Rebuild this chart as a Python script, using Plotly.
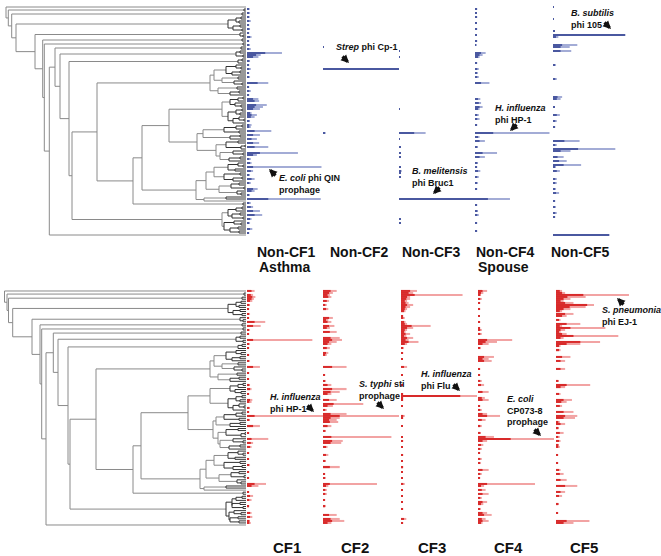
import plotly.graph_objects as go

W, H = 661, 556
FONT = "Liberation Sans, Arial, sans-serif"

# ---------------- dendrogram (same topology for both panels) ----------------
C1 = "(c1 (236 (241 . .) (239 . .)) (233 (240 . .) (242 . .)))"
C2 = "(240 . (243 . .))"
C8 = "(c8 (214 (226 (236 . (241 . .)) (232 (240 . .) .)) (222 (238 . .) (234 . (242 . .)))) (218 (237 . .) (230 (239 . .) .)))"
C9 = "(c9 (230 (238 (243 . .) .) (235 . (241 . .))) (228 (236 (242 . .) (240 . .)) (233 (239 . (244 . .)) .)))"
C10 = "(c10 (c10a (224 (236 (242 . .) .) (239 . .)) (230 (240 . .) .)) (c10b (226 (238 . .) (241 (245 . .) .)) (220 (233 . (243 . .)) (229 (240 . .) .))))"
C11 = "(c11 (206 (214 (228 (238 . (243 . .)) (235 . .)) (224 (240 . .) (233 (242 . .) .))) (219 (231 (239 . .) (244 . .)) (237 . (241 . .)))) (204 (226 . .) .))"
C13 = "(c13 (c13a (236 (242 . .) .) (232 (240 . .) (243 . .))) (c13b (234 . (241 . .)) (230 (238 . .) (239 . .))))"

TREE = f"""
(r0 .
  (r1 (244 . .)
    (r2 (242 . .)
      (r3 {C1}
        (r4 {C2}
          (r5 (242 . .)
            (r6 (243 . .)
              (r7
                (r8 (241 . .)
                  (r9 (236 (240 . .) (243 . .))
                    (r10 (238 (242 . .) .)
                      (r11
                        (r12 {C8} (r13 (r14 (r15 {C9} {C10}) {C11}) (243 . .)))
                        {C13}))))
                . ))))))))
"""

TOP_HEIGHTS = {"r0": 6, "r1": 8.3, "r2": 11.7, "r3": 16, "r4": 35, "r5": 42.7, "r6": 44.3,
               "r7": 49.3, "r8": 55, "r9": 60, "r10": 69, "r11": 72, "r12": 97, "r13": 133,
               "r14": 142, "r15": 169, "c1": 228, "c8": 210, "c9": 222, "c10": 197,
               "c10a": 203, "c10b": 216, "c11": 196, "c13": 222, "c13a": 228, "c13b": 224}
BOT_HEIGHTS = {"r0": 4.5, "r1": 7, "r2": 8.5, "r3": 12.7, "r4": 32, "r5": 40, "r6": 41.7,
               "r7": 46, "r8": 53.3, "r9": 58, "r10": 68, "r11": 70, "r12": 96, "r13": 133,
               "r14": 141, "r15": 188, "c1": 228, "c8": 210, "c9": 210, "c10": 213,
               "c10a": 216, "c10b": 218, "c11": 200, "c13": 226, "c13a": 232, "c13b": 229}
LEAF_X = 246

# ---------------- bars: (leaf row, total length, dark core length), % of column ----------------
NONCF1 = [(1,3,3),(3,4,2),(5,3,3),(7,5,3),(9,3,2),(11,4,3),(13,3,2),(15,6,4),(17,3,2),(19,4,2),(21,5,3),
          (23,46,24),(24,18,12),(25,15,8),(27,4,3),(29,3,2),(31,5,3),(33,3,2),(35,4,2),(38,28,14),(40,3,2),
          (42,5,3),(44,3,2),(46,15,8),(47,16,10),(49,26,12),(50,21,10),(51,17,8),(53,6,4),(54,13,6),(55,10,5),
          (57,4,3),(59,6,3),(60,5,3),(62,32,10),(64,17,8),(66,13,6),(68,16,8),(70,28,10),(73,67,17),(74,13,8),
          (76,5,3),(78,6,4),(80,98,8),(82,8,5),(84,4,2),(86,10,6),(88,5,3),(91,14,8),(92,10,6),(94,4,2),
          (96,97,28),(98,5,3),(100,8,5),(102,17,8),(104,20,10),(106,6,4),(108,4,2),(111,7,4),(113,3,2)]
NONCF2 = [(20,1,1),(31,100,100),(63,3,3)]
NONCF3 = [(22,1,1),(25,1,1),(51,1,1),(63,35,20),(66,1,1),(70,2,2),(73,2,2),(75,2,2),(80,2,2),(82,3,3),
          (83,2,2),(85,2,2),(96,100,100),(106,2,2),(108,2,2)]
NONCF4 = [(1,3,2),(3,2,2),(5,3,2),(8,2,2),(11,3,2),(14,2,2),(17,3,2),(19,2,1),(23,14,8),(24,10,6),(25,6,4),
          (28,3,2),(31,5,3),(33,4,2),(35,5,3),(38,19,8),(46,7,4),(48,8,5),(50,10,6),(51,6,4),(54,5,3),(56,6,3),
          (59,3,2),(63,98,24),(65,6,4),(67,13,6),(70,4,3),(73,29,10),(75,13,6),(78,4,3),(80,3,2),(82,7,4),
          (85,5,3),(88,4,2),(91,3,2),(96,46,17),(99,3,2),(102,4,3),(104,5,3),(108,3,2),(112,3,2)]
NONCF5 = [(0,1,1),(6,1,1),(12,2,2),(14,95,95),(15,7,4),(19,32,12),(20,22,10),(22,24,10),(29,4,2),(36,5,3),
          (45,12,6),(46,10,5),(50,2,2),(54,9,5),(57,5,3),(60,3,2),(67,35,15),(69,5,3),(71,82,33),(72,23,10),
          (75,14,6),(77,18,8),(79,37,14),(80,4,2),(82,9,5),(86,5,3),(88,5,3),(91,4,2),(93,8,4),(97,3,2),
          (100,4,2),(103,5,3),(105,3,2),(114,74,74)]

CF1 = [(0,10,6),(2,8,5),(3,11,7),(4,9,6),(5,7,4),(7,4,3),(9,3,2),(11,4,2),(13,3,2),(15,24,10),(17,18,8),
       (19,4,2),(21,3,2),(24,86,8),(26,4,2),(28,3,2),(31,3,2),(34,4,2),(37,17,8),(40,3,2),(43,3,2),(46,4,3),
       (48,6,4),(50,3,2),(53,7,4),(54,6,3),(57,4,3),(59,3,2),(61,100,10),(63,4,3),(66,17,8),(69,3,2),
       (72,28,6),(74,8,5),(76,6,4),(79,3,2),(82,3,2),(85,4,2),(88,3,2),(91,3,2),(94,25,10),(95,15,6),
       (98,3,2),(100,8,4),(102,6,3),(105,3,2),(108,6,4),(110,7,4),(112,4,3),(113,5,3)]
CF2 = [(0,18,10),(1,13,8),(2,9,6),(3,11,7),(5,8,5),(7,5,3),(9,7,4),(13,13,8),(14,7,4),(15,11,6),(17,15,8),
       (18,9,5),(20,18,9),(23,22,10),(24,25,12),(25,18,8),(26,11,6),(28,9,5),(30,7,4),(31,5,3),(37,31,12),
       (41,3,2),(44,4,2),(46,11,6),(48,31,12),(49,22,10),(50,11,6),(53,18,8),(55,53,14),(56,13,6),(58,5,3),
       (60,31,10),(61,100,22),(62,22,10),(63,18,8),(64,20,9),(66,11,6),(68,4,3),(71,90,11),(73,26,12),
       (74,24,10),(76,6,4),(80,7,4),(83,4,3),(86,22,9),(89,3,2),(91,4,2),(94,71,9),(95,7,4),(97,5,3),
       (99,5,3),(102,3,2),(105,4,2),(109,18,8),(111,22,10),(112,28,12),(113,11,6)]
CF3 = [(0,21,12),(1,16,10),(2,81,18),(3,12,8),(4,12,7),(5,8,5),(6,10,6),(7,16,8),(8,12,6),(9,8,5),(10,6,4),
       (12,3,2),(13,5,3),(15,6,4),(16,8,5),(17,39,14),(18,16,8),(19,8,5),(20,6,4),(21,12,6),(22,7,4),
       (23,16,8),(24,10,6),(25,23,10),(26,8,5),(28,4,2),(30,3,2),(33,2,2),(37,8,4),(41,2,2),(46,2,2),
       (50,3,2),(51,100,78),(52,3,2),(53,3,2),(56,2,2),(61,5,3),(62,3,2),(66,2,2),(71,2,2),(73,3,2),
       (76,2,2),(80,3,2),(83,2,2),(86,3,2),(88,2,2),(91,2,2),(94,5,3),(97,2,2),(100,2,2),(103,2,2),
       (106,3,2),(111,7,4),(113,3,2)]
CF4 = [(0,12,6),(1,7,4),(2,4,3),(4,5,3),(6,3,2),(9,3,2),(12,2,2),(15,3,2),(18,3,2),(19,5,3),(21,5,3),
       (24,45,12),(25,25,10),(26,14,6),(28,4,2),(32,21,8),(33,14,6),(34,18,8),(38,3,2),(41,3,2),(44,5,3),
       (46,8,4),(49,14,6),(52,9,5),(53,14,6),(56,3,2),(58,5,3),(60,12,6),(61,29,12),(63,10,5),(66,5,3),
       (69,4,3),(71,21,10),(72,100,43),(73,12,6),(75,7,4),(77,5,3),(79,3,2),(82,5,3),(84,4,2),(87,14,6),
       (89,5,3),(91,3,2),(94,75,12),(95,8,4),(97,10,5),(99,14,6),(101,5,3),(103,12,6),(104,7,4),(106,4,2),
       (108,12,6),(109,18,8),(111,10,5),(112,14,6),(113,6,4)]
CF5 = [(0,8,5),(1,12,8),(2,96,36),(3,39,15),(4,19,10),(5,10,6),(6,23,12),(7,50,41),(8,39,18),(9,19,10),
       (10,8,5),(11,23,12),(12,14,8),(14,6,4),(16,32,14),(17,8,5),(18,65,19),(19,12,6),(20,6,4),(21,14,8),
       (22,82,23),(23,10,6),(25,58,32),(26,32,14),(27,6,4),(29,6,4),(32,19,8),(34,12,6),(38,12,6),(44,4,3),
       (46,45,14),(47,12,6),(50,6,4),(53,21,10),(54,14,7),(56,8,5),(59,23,10),(61,28,12),(62,25,10),
       (64,5,3),(65,12,6),(67,4,3),(69,10,5),(71,5,3),(73,6,4),(75,4,3),(76,5,3),(80,3,2),(84,3,2),
       (87,6,4),(89,10,5),(92,14,6),(95,28,12),(98,12,6),(100,8,4),(104,4,3),(108,3,2),(112,44,14),
       (113,23,10)]

TOP_LABELS = ["Non-CF1", "Non-CF2", "Non-CF3", "Non-CF4", "Non-CF5"]
BOT_LABELS = ["CF1", "CF2", "CF3", "CF4", "CF5"]
TOP_DATA = [NONCF1, NONCF2, NONCF3, NONCF4, NONCF5]
BOT_DATA = [CF1, CF2, CF3, CF4, CF5]

# ---------------- geometry (pixels) ----------------
TOP_BASES = [247, 323, 399, 475, 553]
BOT_BASES = [247, 323, 401, 478, 556]
COL_W = 76
TOP_Y = (7, 235)
BOT_Y = (291, 525)

BLUE_L, BLUE_D = "#a3acd6", "#4a58a0"
RED_L, RED_D = "#f2a3a3", "#d82a2a"


def parse(s, heights):
    toks = s.replace("(", " ( ").replace(")", " ) ").split()
    pos = [0]

    def node():
        t = toks[pos[0]]; pos[0] += 1
        if t == ".":
            return None
        name = toks[pos[0]]; pos[0] += 1
        h = heights[name] if name in heights else float(name)
        a = node(); b = node()
        assert toks[pos[0]] == ")"; pos[0] += 1
        return (h, a, b)
    return node()


def dendro_segments(tree):
    gray, dark = ([], []), ([], [])
    cnt = [0]

    def add(tgt, x0, y0, x1, y1):
        tgt[0].extend([x0, x1, None]); tgt[1].extend([y0, y1, None])

    def rec(n):
        if n is None:
            y = cnt[0]; cnt[0] += 1
            return LEAF_X, y
        h, a, b = n
        xa, ya = rec(a); xb, yb = rec(b)
        tgt = dark if h >= 224 else gray
        add(tgt, h, ya, xa, ya)
        add(tgt, h, yb, xb, yb)
        add(tgt, h, ya, h, yb)
        return h, (ya + yb) / 2
    rec(tree)
    return gray, dark, cnt[0]


fig = go.Figure()
layout = dict(width=W, height=H, margin=dict(l=0, r=0, t=0, b=0), paper_bgcolor="white",
              plot_bgcolor="rgba(0,0,0,0)", showlegend=False, barmode="overlay")

def hidden(**kw):
    d = dict(visible=False, showgrid=False, zeroline=False, fixedrange=True)
    d.update(kw)
    return d

panels = [("y", TOP_Y, TOP_HEIGHTS, TOP_BASES, TOP_DATA, BLUE_L, BLUE_D, 1),
          ("y2", BOT_Y, BOT_HEIGHTS, BOT_BASES, BOT_DATA, RED_L, RED_D, 7)]

for yname, (ytop, ybot), heights, bases, datas, cl, cd, xi in panels:
    tree = parse(TREE, heights)
    gray, dark, n = dendro_segments(tree)
    step = (ybot - ytop) / (n - 1)
    pad = 1
    d0 = 1 - (ybot + pad * step) / H
    d1 = 1 - (ytop - pad * step) / H
    ykey = "yaxis" if yname == "y" else "yaxis2"
    xd = "x" if xi == 1 else f"x{xi}"
    layout[ykey] = hidden(domain=[d0, d1], range=[n - 1 + pad, -pad], anchor=xd)
    xkey = "xaxis" if xi == 1 else f"xaxis{xi}"
    layout[xkey] = hidden(domain=[0, LEAF_X / W], range=[0, LEAF_X], anchor=yname)
    fig.add_trace(go.Scatter(x=gray[0], y=gray[1], mode="lines", xaxis=xd, yaxis=yname,
                             line=dict(color="#8a8a8a", width=1), hoverinfo="skip"))
    fig.add_trace(go.Scatter(x=dark[0], y=dark[1], mode="lines", xaxis=xd, yaxis=yname,
                             line=dict(color="#333333", width=1), hoverinfo="skip"))
    for k, (base, data) in enumerate(zip(bases, datas)):
        ax_i = xi + 1 + k
        xn = f"x{ax_i}"
        layout[f"xaxis{ax_i}"] = hidden(domain=[base / W, (base + COL_W) / W], range=[0, 100], anchor=yname)
        rows = [r for r, _, _ in data]
        fig.add_trace(go.Bar(y=rows, x=[t for _, t, _ in data], orientation="h", width=0.6,
                             marker=dict(color=cl, line=dict(width=0)), xaxis=xn, yaxis=yname,
                             hoverinfo="skip"))
        fig.add_trace(go.Bar(y=rows, x=[c for _, _, c in data], orientation="h", width=0.6,
                             marker=dict(color=cd, line=dict(width=0)), xaxis=xn, yaxis=yname,
                             hoverinfo="skip"))

fig.update_layout(**layout)


def text(x, y, s, size=9, anchor="left"):
    fig.add_annotation(x=x / W, y=1 - y / H, xref="paper", yref="paper", text=s, showarrow=False,
                       xanchor=anchor, yanchor="middle", align="left",
                       font=dict(size=size, color="#111111", family=FONT))


def arrow(hx, hy, tx, ty):
    fig.add_annotation(x=hx / W, y=1 - hy / H, xref="paper", yref="paper", ax=tx - hx, ay=ty - hy,
                       text="", showarrow=True, arrowhead=2, arrowsize=0.5, arrowwidth=3.2,
                       arrowcolor="#111111", standoff=0, startstandoff=0)

# column labels
for lab, cx in zip(TOP_LABELS, [286, 359, 432, 505, 580]):
    text(cx, 252, f"<b>{lab}</b>", 14, "center")
text(257, 267, "<b>Asthma</b>", 14)
text(476, 267, "<b>Spouse</b>", 14)
for lab, cx in zip(BOT_LABELS, [287, 355, 432, 508, 584]):
    text(cx, 547, f"<b>{lab}</b>", 15, "center")

# phage annotations
text(334, 47, "<b><i>Strep</i> phi Cp-1</b>"); arrow(349, 63, 341, 55)
text(277, 183.5, "<b><i>E. coli</i> phi QIN<br>prophage</b>"); arrow(269, 169, 277, 177)
text(410, 177, "<b><i>B. melitensis</i><br>phi Bruc1</b>"); arrow(433, 194, 441, 186)
text(493, 114, "<b><i>H. influenza</i><br>phi HP-1</b>"); arrow(510, 131, 518, 123)
text(569, 19, "<b><i>B. subtilis</i><br>phi 105</b>"); arrow(611, 29, 603, 21)

text(268, 402.5, "<b><i>H. influenza</i><br>phi HP-1</b>"); arrow(314, 412, 306, 404)
text(357, 390, "<b><i>S. typhi</i> sti<br>prophage</b>"); arrow(384, 409, 376, 401)
text(419, 380, "<b><i>H. influenza</i><br>phi Flu</b>"); arrow(460, 391, 452, 383)
text(505, 410, "<b><i>E. coli</i><br>CP073-8<br>prophage</b>"); arrow(541, 436, 533, 428)
text(600, 316, "<b><i>S. pneumonia</i><br>phi EJ-1</b>"); arrow(617, 298, 625, 306)

fig.write_html("out.html", config={"displayModeBar": False},
               post_script="document.body.style.margin='0';")
